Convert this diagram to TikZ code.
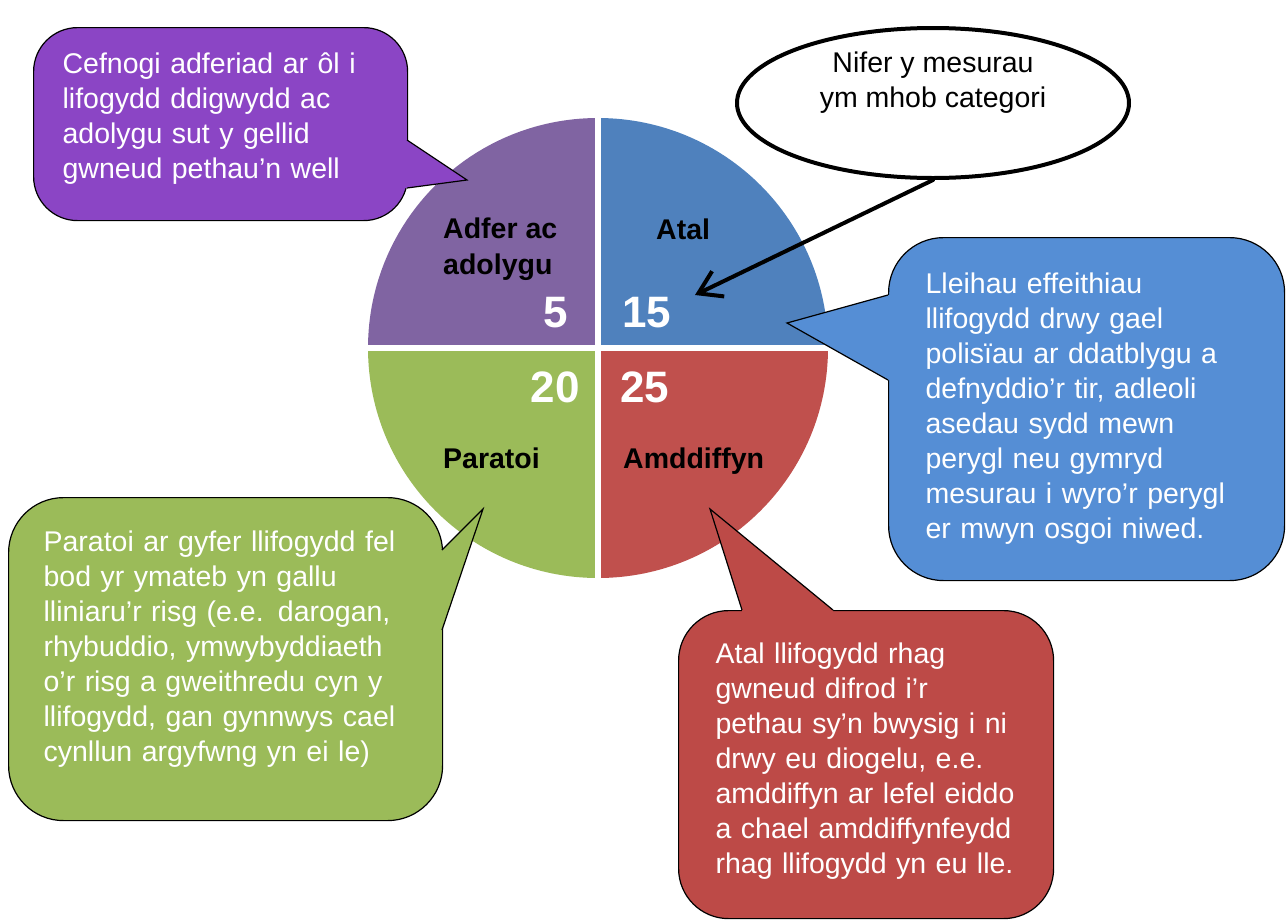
\documentclass[tikz,border=0pt]{standalone}
\usepackage{fontspec}
\setmainfont{Liberation Sans}
\usetikzlibrary{shapes.geometric,arrows.meta}

\definecolor{adferpurple}{HTML}{8064A2}
\definecolor{atalblue}{HTML}{4F81BD}
\definecolor{paratoigreen}{HTML}{9BBB59}
\definecolor{amddred}{HTML}{C0504D}
\definecolor{bubblepurple}{HTML}{8B45C5}
\definecolor{bubbleblue}{HTML}{558ED5}
\definecolor{bubblered}{HTML}{BD4A47}

\begin{document}
\begin{tikzpicture}[x=1pt, y=-1pt]
    \tikzstyle{bubble}=[draw=black, line width=1.2pt, rounded corners=55pt, anchor=north west, inner ysep=0pt, align=left, text=white, font=\fontsize{28.5}{35}\selectfont]
    \tikzstyle{pointer}=[draw=black, line width=1.2pt, line join=miter]
    \tikzstyle{sector}=[inner sep=0pt, align=left, font=\bfseries\fontsize{28.5}{36}\selectfont]
    \tikzstyle{tally}=[inner sep=0pt, text=white, font=\bfseries\fontsize{44}{44}\selectfont]

    \useasboundingbox (0,0) rectangle (1286,922);

    % Draw the pie
    \coordinate (hub) at (598,348);
    \foreach \col/\a in {atalblue/0, adferpurple/90, paratoigreen/180, amddred/270}
        \fill[\col] (hub) -- ++(\a:230pt) arc[start angle=\a, end angle=\a+90, radius=230pt] -- cycle;
    \draw[white, line width=6pt] (598,110) -- (598,590);
    \draw[white, line width=6pt] (360,348) -- (836,348);

    % Annotate the sectors
    \node[sector, anchor=north west] (adferlabel) at (443,218) {Adfer ac\\adolygu};
    \node[sector, anchor=base west] (atallabel) at (656,239) {Atal};
    \node[sector, anchor=base west] (paratoilabel) at (443,468) {Paratoi};
    \node[sector, anchor=base west] (amddlabel) at (623,468) {Amddiffyn};
    \node[tally, anchor=base east] (adfercount) at (568,327) {5};
    \node[tally, anchor=base west] (atalcount) at (622,327) {15};
    \node[tally, anchor=base east] (paratoicount) at (580,402) {20};
    \node[tally, anchor=base west] (amddcount) at (620,402) {25};

    % Draw the callouts
    \node[bubble, fill=bubblepurple, rounded corners=44pt, inner xsep=29pt, text width=316pt, minimum height=193pt] (adferbox) at (33,27)
        {Cefnogi adferiad ar ôl i\\lifogydd ddigwydd ac\\adolygu sut y gellid\\gwneud pethau’n well\par\vspace*{12pt}};
    \fill[bubblepurple] (404,140) -- (407,140) -- (467,180) -- (407,188) -- (404,188) -- cycle;
    \draw[pointer] (407,140) -- (467,180) -- (407,188);

    \node[bubble, fill=bubbleblue, inner xsep=37pt, text width=322pt, minimum height=343pt] (atalbox) at (888,237)
        {Lleihau effeithiau\\llifogydd drwy gael\\polisïau ar ddatblygu a\\defnyddio’r tir, adleoli\\asedau sydd mewn\\perygl neu gymryd\\mesurau i wyro’r perygl\\er mwyn osgoi niwed.};
    \fill[bubbleblue] (891,295) -- (888,295) -- (787,323) -- (888,380) -- (891,380) -- cycle;
    \draw[pointer] (888,295) -- (787,323) -- (888,380);

    \node[bubble, fill=bubblered, rounded corners=50pt, inner xsep=37pt, text width=301pt, minimum height=308pt] (amddbox) at (678,610)
        {Atal llifogydd rhag\\gwneud difrod i’r\\pethau sy’n bwysig i ni\\drwy eu diogelu, e.e.\\amddiffyn ar lefel eiddo\\a chael amddiffynfeydd\\rhag llifogydd yn eu lle.\par\vspace*{6pt}};
    \fill[bubblered] (742,613) -- (742,610) -- (710,509) -- (833,610) -- (833,613) -- cycle;
    \draw[pointer] (742,610) -- (710,509) -- (833,610);

    \node[bubble, fill=paratoigreen, inner xsep=35pt, text width=364pt, minimum height=323pt] (paratoibox) at (8,497)
        {Paratoi ar gyfer llifogydd fel\\bod yr ymateb yn gallu\\lliniaru’r risg (e.e. darogan,\\rhybuddio, ymwybyddiaeth\\o’r risg a gweithredu cyn y\\llifogydd, gan gynnwys cael\\cynllun argyfwng yn ei le)\par\vspace*{20pt}};
    \fill[paratoigreen] (439,550) -- (442,550) -- (483,509) -- (442,630) -- (439,630) -- cycle;
    \draw[pointer] (442,550) -- (483,509) -- (442,630);

    % Draw the count note
    \node[ellipse, draw=black, line width=4pt, fill=white, minimum width=392pt, minimum height=150pt] (countnote) at (933,103) {};
    \node[align=center, inner sep=0pt, font=\fontsize{28.5}{35}\selectfont] (counttext) at (933,83) {Nifer y mesurau\\ym mhob categori};
    \coordinate (atalpoint) at (695,295);
    \draw[line width=4pt, line cap=round, -{Straight Barb[length=22pt,width=28pt]}] (countnote.south) -- (atalpoint);
\end{tikzpicture}
\end{document}
